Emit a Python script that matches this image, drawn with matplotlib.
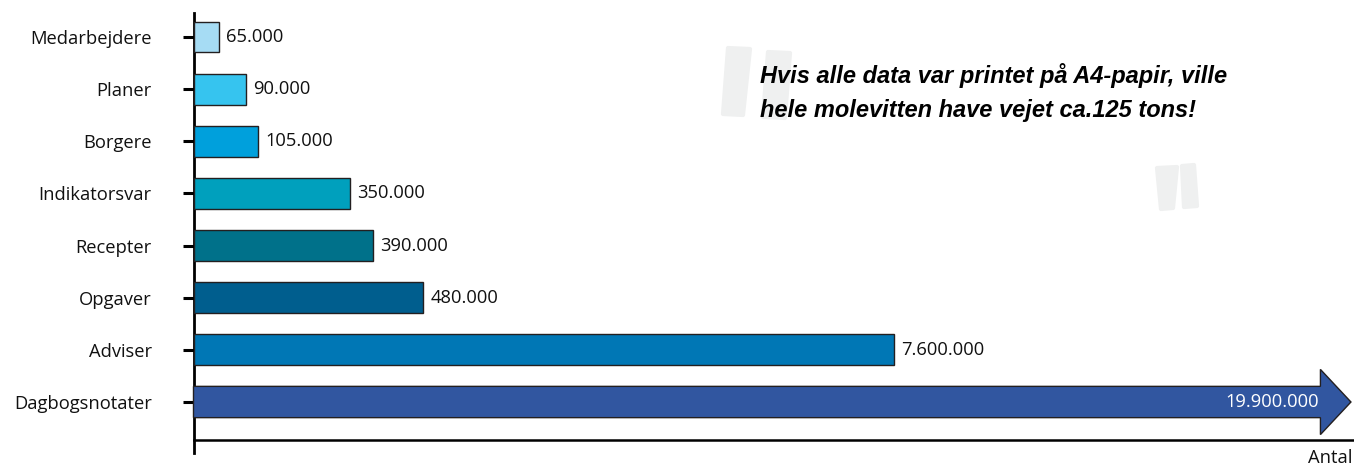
import numpy as np
import matplotlib
matplotlib.use('Agg')
import matplotlib.pyplot as plt
from matplotlib.patches import FancyArrow, Polygon

# data (top to bottom as in the chart)
kategorier = ['Medarbejdere', 'Planer', 'Borgere', 'Indikatorsvar',
              'Recepter', 'Opgaver', 'Adviser', 'Dagbogsnotater']
antal = [65000, 90000, 105000, 350000, 390000, 480000, 7600000, 19900000]
farver = ['#a6dcf4', '#36c4ef', '#00a0dc', '#00a0bd',
          '#00718a', '#005e8e', '#0077b5', '#3156a0']

# the infographic uses a stretched, non-uniform axis
skala_v = [0, 50e3, 100e3, 300e3, 500e3, 10e6, 20e6]
skala_u = [0, 9.5, 63, 128.5, 241, 855, 1160]


def frem(v):
    return np.interp(v, skala_v, skala_u)


def tilbage(u):
    return np.interp(u, skala_u, skala_v)


def fmt(v):
    return f'{v:,}'.replace(',', '.')


W, H = 1354, 466
fig = plt.figure(figsize=(W / 100, H / 100), dpi=100)
fig.patch.set_facecolor('white')


def px(x, y):
    return (x / W, 1 - y / H)


# decorative quote marks (behind everything)
quote_col = '#eff0f0'
for pts in [[(728, 48), (750, 49), (743, 115), (723, 114)],
            [(768, 52), (790, 53), (785, 118), (763, 117)],
            [(1157, 168), (1177, 167), (1173, 208), (1161, 209)],
            [(1182, 166), (1194, 165), (1197, 206), (1184, 207)]]:
    fig.patches.append(Polygon([px(*p) for p in pts], closed=True,
                               transform=fig.transFigure, facecolor=quote_col,
                               edgecolor=quote_col, lw=3, joinstyle='round',
                               zorder=0))

ax = fig.add_axes([193.5 / W, 13 / H, 1 - 193.5 / W, 440 / H])
ax.patch.set_alpha(0)
ax.set_xscale('function', functions=(frem, tilbage))
ax.set_xlim(0, 20e6)
ax.set_ylim(-0.978, 7.46)

n = len(kategorier)
ypos = np.arange(n)[::-1]

label_font = {'family': ['Open Sans', 'DejaVu Sans'], 'size': 13.2}

ax.barh(ypos[:-1], antal[:-1], height=0.59, color=farver[:-1],
        edgecolor='#231f20', linewidth=1, zorder=3)
for y, v in zip(ypos[:-1], antal[:-1]):
    ax.annotate(fmt(v), (v, y), xytext=(5, 0), textcoords='offset points',
                ha='left', va='center', color='#111111', **label_font)

# last category drawn as an arrow
hoved = 1.0e6
pil = FancyArrow(0, ypos[-1], antal[-1], 0, width=0.6, head_width=1.25,
                 head_length=hoved, length_includes_head=True,
                 facecolor=farver[-1], edgecolor='#231f20', linewidth=1,
                 zorder=3, clip_on=False)
ax.add_patch(pil)
ax.annotate(fmt(antal[-1]), (antal[-1] - hoved, ypos[-1]), xytext=(-1, 0),
            textcoords='offset points', ha='right', va='center',
            color='white', zorder=4, **label_font)

ax.set_yticks(ypos)
ax.set_yticklabels(kategorier, fontdict=label_font, color='#111111')
ax.tick_params(axis='y', length=8, width=2.2, pad=22, color='black')
ax.set_xticks([])
ax.xaxis.set_minor_locator(matplotlib.ticker.NullLocator())

for s in ['top', 'right']:
    ax.spines[s].set_visible(False)
ax.spines['left'].set_linewidth(2)
ax.spines['bottom'].set_linewidth(1.8)
ax.spines['bottom'].set_position(('data', -0.729))

fig.text(1352 / W, 3 / H, 'Antal', ha='right', va='baseline',
         color='#111111', **label_font)

citat = ['Hvis alle data var printet på A4-papir, ville',
         'hele molevitten have vejet ca.125 tons!']
for linje, base in zip(citat, [83, 117]):
    fig.text(760 / W, 1 - base / H, linje, ha='left', va='baseline',
             fontsize=17, fontweight='bold', fontstyle='italic',
             family=['Liberation Sans', 'DejaVu Sans'], color='black')

fig.savefig('out.png', dpi=100)
